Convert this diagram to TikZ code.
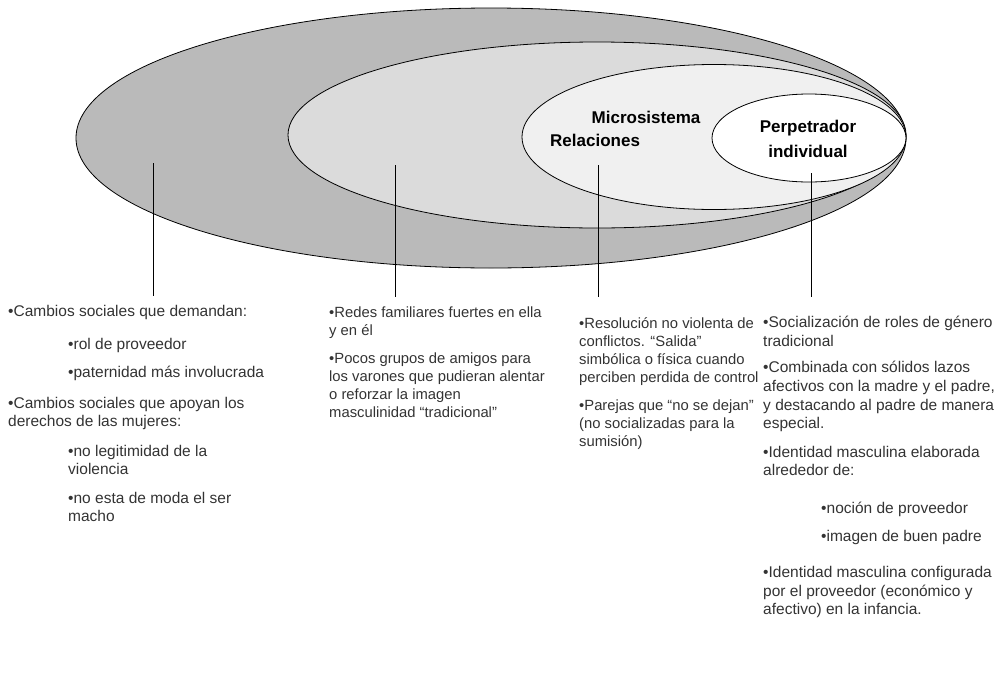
\documentclass[tikz,border=0pt]{standalone}
\usepackage{fontspec}
\setmainfont{Liberation Sans}
\usetikzlibrary{shapes.geometric,positioning}

\begin{document}
\begin{tikzpicture}[
  x=1pt, y=1pt,
  zone/.style={ellipse, draw=black, line width=0.8pt, inner sep=0pt},
  lbl/.style={font=\fontsize{17}{25}\selectfont\bfseries, text=black, align=center, inner sep=0pt},
  col/.style={anchor=north west, inner sep=0pt, align=left, text=black!80,
              font=\fontsize{15.5}{18}\selectfont},
  narrow/.style={font=\fontsize{14.8}{18}\selectfont},
  link/.style={black, line width=0.6pt},
]
  \useasboundingbox (0,0) rectangle (1004,-683);

  %% Nested systems, outer to inner
  \node[zone, fill=black!27, minimum width=830pt, minimum height=260pt] (macro) at (491,-138) {};
  \node[zone, fill=black!14, minimum width=618pt, minimum height=186pt] (exo)   at (597,-135) {};
  \node[zone, fill=black!6,  minimum width=384pt, minimum height=145pt] (micro) at (714,-137) {};
  \node[zone, fill=white,    minimum width=194pt, minimum height=88pt]  (perp)  at (809,-138) {};

  %% Labels inside the ellipses
  \node[lbl] (microLbl) at (646,-117) {Microsistema};
  \node[lbl, anchor=west] (relLbl) at (550,-140) {Relaciones};
  \node[lbl] (perpLbl) at (808,-139) {Perpetrador\\individual};

  %% Points where the leaders start
  \coordinate (macroPt) at (153,-163);
  \coordinate (exoPt)   at (395,-165);
  \coordinate (microPt) at (598,-165);
  \coordinate (perpPt)  at (811,-173);

  %% Text columns
  \node[col] (macroTxt) at (8,-305) {%
    •Cambios sociales que demandan:\\[15pt]
    \hspace*{60pt}•rol de proveedor\\[10pt]
    \hspace*{60pt}•paternidad más involucrada\\[13pt]
    •Cambios sociales que apoyan los\\
    derechos de las mujeres:\\[12pt]
    \hspace*{60pt}•no legitimidad de la\\
    \hspace*{60pt}violencia\\[11pt]
    \hspace*{60pt}•no esta de moda el ser\\
    \hspace*{60pt}macho};
  \node[col, narrow] (exoTxt) at (329,-307) {%
    •Redes familiares fuertes en ella\\
    y en él\\[10pt]
    •Pocos grupos de amigos para\\
    los varones que pudieran alentar\\
    o reforzar la imagen\\
    masculinidad “tradicional”};
  \node[col, narrow] (microTxt) at (579,-317) {%
    •Resolución no violenta de\\
    conflictos. “Salida”\\
    simbólica o física cuando\\
    perciben perdida de control\\[10pt]
    •Parejas que “no se dejan”\\
    (no socializadas para la\\
    sumisión)};
  \node[col, font=\fontsize{15.5}{18.6}\selectfont] (perpTxt) at (763,-316) {%
    •Socialización de roles de género\\
    tradicional\\[8pt]
    •Combinada con sólidos lazos\\
    afectivos con la madre y el padre,\\
    y destacando al padre de manera\\
    especial.\\[10pt]
    •Identidad masculina elaborada\\
    alrededor de:\\[19pt]
    \hspace*{58pt}•noción de proveedor\\[9pt]
    \hspace*{58pt}•imagen de buen padre\\[18pt]
    •Identidad masculina configurada\\
    por el proveedor (económico y\\
    afectivo) en la infancia.};

  %% Leaders
  \draw[link] (macroPt) -- ++(0,-133);
  \draw[link] (exoPt)   -- ++(0,-132);
  \draw[link] (microPt) -- ++(0,-132);
  \draw[link] (perpPt)  -- ++(0,-124);

\end{tikzpicture}
\end{document}
